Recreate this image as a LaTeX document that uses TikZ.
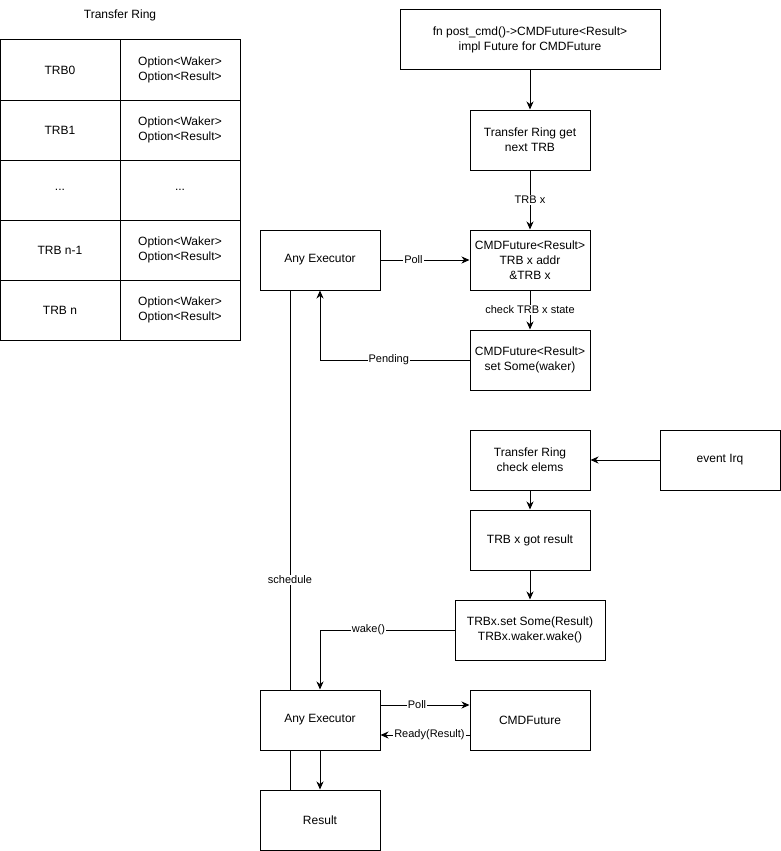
\documentclass[tikz,border=0pt]{standalone}
\usepackage{fontspec}
\setmainfont{Liberation Sans}
\usetikzlibrary{arrows.meta}
\begin{document}
\begin{tikzpicture}[x=1pt,y=-1pt, line width=1pt,
  box/.style={draw, line width=1pt, minimum width=#1, minimum height=60pt, align=center, inner sep=0pt, font=\fontsize{12}{15}\selectfont},
  box/.default=120pt,
  lbl/.style={fill=white, inner sep=1pt, font=\fontsize{11}{13}\selectfont},
  arr/.style={-{Stealth[length=8pt,width=7pt,inset=2.5pt]}},
  ttl/.style={font=\fontsize{12}{15}\selectfont}
]
\useasboundingbox (0,0) rectangle (781,851);
% Transfer ring table
\node[ttl] (title) at (120,15) {Transfer Ring};
\node[box] (r0a) at (60,70) {TRB0};
\node[box] (r0b) at (180,70) {Option<Waker>\\Option<Result>};
\node[box] (r1a) at (60,130) {TRB1};
\node[box] (r1b) at (180,130) {Option<Waker>\\Option<Result>};
\node[box] (r2a) at (60,190) {...};
\node[box] (r2b) at (180,190) {...};
\node[box] (r3a) at (60,250) {TRB n-1};
\node[box] (r3b) at (180,250) {Option<Waker>\\Option<Result>};
\node[box] (r4a) at (60,310) {TRB n};
\node[box] (r4b) at (180,310) {Option<Waker>\\Option<Result>};
% flow
\node[box=260pt] (b1) at (530,40) {fn post\_cmd()->CMDFuture<Result>\\impl Future for CMDFuture};
\node[box] (b2) at (530,140) {Transfer Ring get\\next TRB};
\node[box] (b3) at (530,260) {CMDFuture<Result>\\TRB x addr\\\&TRB x};
\node[box] (e1) at (320,260) {Any Executor};
\node[box] (b4) at (530,360) {CMDFuture<Result>\\set Some(waker)};
\node[box] (b5) at (530,460) {Transfer Ring\\check elems};
\node[box] (irq) at (720,460) {event Irq};
\node[box] (b6) at (530,540) {TRB x got result};
\node[box=150pt] (b7) at (530,630) {TRBx.set Some(Result)\\TRBx.waker.wake()};
\node[box] (e2) at (320,720) {Any Executor};
\node[box] (cmdf) at (530,720) {CMDFuture};
\node[box] (res) at (320,820) {Result};
% connectors
\draw[arr] (b1) -- (b2);
\draw[arr] (b2) -- node[lbl]{TRB x} (b3);
\draw[arr] (e1) -- node[lbl,pos=0.37]{Poll} (b3);
\draw[arr] (b3) -- node[lbl]{check TRB x state} (b4);
\draw[arr] (b4.west) -| node[lbl,pos=0.27]{Pending} (e1.south);
\draw ([xshift=-30pt]e1.south) -- node[lbl,pos=0.725]{schedule} ([xshift=-30pt]e2.north);
\draw ([xshift=-30pt]e2.south) -- ([xshift=-30pt]res.north);
\draw[arr] (e2) -- (res);
\draw[arr] (irq) -- (b5);
\draw[arr] (b5) -- (b6);
\draw[arr] (b6) -- (b7);
\draw[arr] (b7.west) -| node[lbl,pos=0.32]{wake()} (e2.north);
\draw[arr] ([yshift=15pt]e2.east) -- node[lbl,pos=0.41]{Poll} ([yshift=15pt]cmdf.west);
\draw[arr] ([yshift=-15pt]cmdf.west) -- node[lbl,pos=0.45]{Ready(Result)} ([yshift=-15pt]e2.east);
\end{tikzpicture}
\end{document}
